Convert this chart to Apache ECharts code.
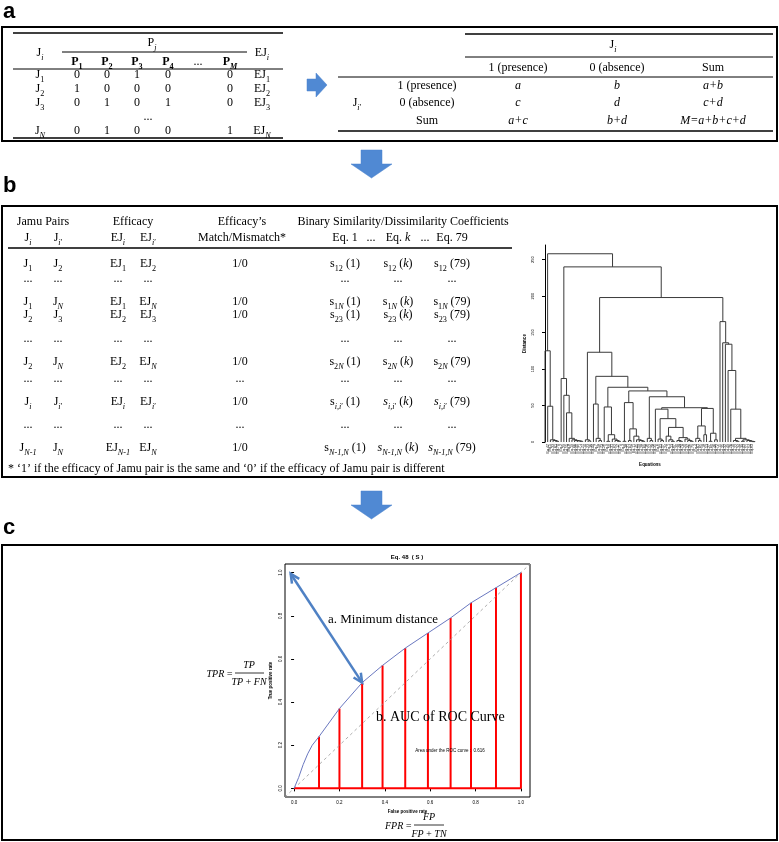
<!DOCTYPE html>
<html><head><meta charset="utf-8">
<script src="https://cdn.jsdelivr.net/npm/echarts@6/dist/echarts.min.js"></script>
<style>html,body{margin:0;padding:0;background:#fff}#c{width:779px;height:842px}</style>
</head><body><div id="c"></div>
<script>
// ================= DATA =================
// Panel a – presence / absence matrix
const plantHeaders = ['P_{1}', 'P_{2}', 'P_{3}', 'P_{4}', '...', 'P_{*M*}'];
const jamuRowLabels = ['J_{1}', 'J_{2}', 'J_{3}', 'J_{*N*}'];
const presenceValues = [[0, 0, 1, 0, '', 0], [1, 0, 0, 0, '', 0], [0, 1, 0, 1, '', 0], [0, 1, 0, 0, '', 1]];
const efficacyLabels = ['EJ_{1}', 'EJ_{2}', 'EJ_{3}', 'EJ_{*N*}'];
// Panel a – 2x2 contingency table
const contColHeaders = ['1 (presence)', '0 (absence)', 'Sum'];
const contRowHeaders = ['1 (presence)', '0 (absence)', 'Sum'];
const contCells = [['*a*', '*b*', '*a+b*'], ['*c*', '*d*', '*c+d*'], ['*a+c*', '*b+d*', '*M=a+b+c+d*']];
// Panel b – Jamu pair table
const pairHeader1 = ['Jamu Pairs', 'Efficacy', 'Efficacy\u2019s', 'Binary Similarity/Dissimilarity Coefficients'];
const pairHeader2 = ['J_{*i*}', 'J_{*i*\u2032}', 'EJ_{*i*}', 'EJ_{*i*\u2032}', 'Match/Mismatch\\*', 'Eq. 1', '...', 'Eq. *k*', '...', 'Eq. 79'];
const pairRows = [
  ['J_{1}', 'J_{2}', 'EJ_{1}', 'EJ_{2}', '1/0', 's_{12} (1)', 's_{12} (*k*)', 's_{12} (79)'],
  ['...', '...', '...', '...', '', '...', '...', '...'],
  ['J_{1}', 'J_{*N*}', 'EJ_{1}', 'EJ_{*N*}', '1/0', 's_{1*N*} (1)', 's_{1*N*} (*k*)', 's_{1*N*} (79)'],
  ['J_{2}', 'J_{3}', 'EJ_{2}', 'EJ_{3}', '1/0', 's_{23} (1)', 's_{23} (*k*)', 's_{23} (79)'],
  ['...', '...', '...', '...', '', '...', '...', '...'],
  ['J_{2}', 'J_{*N*}', 'EJ_{2}', 'EJ_{*N*}', '1/0', 's_{2*N*} (1)', 's_{2*N*} (*k*)', 's_{2*N*} (79)'],
  ['...', '...', '...', '...', '...', '...', '...', '...'],
  ['J_{*i*}', 'J_{*i*\u2032}', 'EJ_{*i*}', 'EJ_{*i*\u2032}', '1/0', 's_{*i,i*\u2032} (1)', '*s*_{*i,i*\u2032} (*k*)', '*s*_{*i,i*\u2032} (79)'],
  ['...', '...', '...', '...', '...', '...', '...', '...'],
  ['J_{*N-1*}', 'J_{*N*}', 'EJ_{*N-1*}', 'EJ_{*N*}', '1/0', 's_{*N-1,N*} (1)', '*s*_{*N-1,N*} (*k*)', '*s*_{*N-1,N*} (79)']
];
const footnote = '* \u20181\u2019 if the efficacy of Jamu pair is the same and \u20180\u2019 if the efficacy of Jamu pair is different';

// Panel b – dendrogram of the 79 coefficients: [height, left, right], leaves = equation numbers
const clusterA = [125, 12, [49, 47, [3, 5, [2, 33, [1, 61, 70]]]]];
const clusterB = [87, 2, [64, 29, [40, 55, [5, 8, [3, 19, [2, 66, [1.5, 40, [1, 71, 77]]]]]]]];
const clusterC1 = [3, 14, [1.5, 23, 36]];
const clusterC2a = [52, 44, [5, 7, [2, 58, 73]]];
const clusterC2b = [48, 26, [10, [1, 9, 50], [4, 31, [2, 62, [1, 17, 75]]]]];
const clusterC2c = [54, [1, 3, 38], [18, [2, 21, 64], [8, 11, [3, 45, [2, 59, [1, 28, 69]]]]]];
const clusterC2d = [5, 16, [2, 52, 78]];
const clusterC2f = [45, 35, [32, [4, 6, [2, 42, 57]], [20, [8, 24, [3, 1, [1, 13, 67]]], [6, [2, 30, [1, 48, 74]], [4, 20, [2, 37, [1, 56, 79]]]]]]];
const clusterC2g = [46, [22, [5, 4, [2, 41, 65]], [10, 18, 53]], [12, [1, 27, 60], [3, 46, 72]]];
const clusterDsmall = [5, [2, 10, [1, 22, 34]], [3, [1, 39, 43], [2, 51, [1, 54, [0.5, 63, 68]]]]];
const clusterD = [165, 15, [136, 25, [134, 32, [98, 49, [45, 76, clusterDsmall]]]]];
const clusterC = [123, clusterC1, [90, clusterC2a, [75, clusterC2b, [70, clusterC2c, [62, clusterC2d, [47, clusterC2f, clusterC2g]]]]]];
const dendroRoot = [258, clusterA, [240, clusterB, [198, clusterC, clusterD]]];
const distanceTicks = [0, 50, 100, 150, 200, 250];

// Panel c – ROC curve of Eq. 48
const rocFPR = [0, 0.02, 0.04, 0.06, 0.08, 0.11, 0.2, 0.3, 0.39, 0.49, 0.59, 0.69, 0.78, 0.89, 1.0];
const rocTPR = [0, 0.05, 0.11, 0.16, 0.2, 0.24, 0.37, 0.49, 0.57, 0.65, 0.72, 0.79, 0.86, 0.93, 1.0];
const aucFPR = [0.11, 0.2, 0.3, 0.39, 0.49, 0.59, 0.69, 0.78, 0.89, 1.0];
const aucTPR = [0.24, 0.37, 0.49, 0.57, 0.65, 0.72, 0.79, 0.86, 0.93, 1.0];
const rateTicks = [0, 0.2, 0.4, 0.6, 0.8, 1.0];
const chanceLine = [[-0.04, -0.04], [1.04, 1.04]];
const baseLine = [[0, 0], [1, 0]];
const minDistanceArrow = [[-0.015, 0.995], [0.3, 0.49]];
const aucText = 'Area under the ROC curve :  0.616';

// ================= HELPERS =================
const SERIF = '"Liberation Serif", "Times New Roman", serif';
const SANS = '"Liberation Sans", Arial, sans-serif';
function makeRich(size, bold) {
  const w = bold ? 'bold' : 'normal';
  const lh = Math.round(size * 1.45);
  const sub = Math.round(size * 0.68 * 10) / 10;
  return {
    n: { fontSize: size, fontFamily: SERIF, fontWeight: w, fill: '#000', lineHeight: lh },
    i: { fontSize: size, fontFamily: SERIF, fontWeight: w, fontStyle: 'italic', fill: '#000', lineHeight: lh },
    s: { fontSize: sub, fontFamily: SERIF, fontWeight: w, fill: '#000', lineHeight: sub + 2, verticalAlign: 'bottom' },
    si: { fontSize: sub, fontFamily: SERIF, fontWeight: w, fontStyle: 'italic', fill: '#000', lineHeight: sub + 2, verticalAlign: 'bottom' }
  };
}
function toRich(str) {
  let out = '', buf = '', italic = false, sub = false;
  const flush = () => { if (buf) { out += '{' + (sub ? (italic ? 'si' : 's') : (italic ? 'i' : 'n')) + '|' + buf + '}'; buf = ''; } };
  for (let k = 0; k < str.length; k++) {
    const c = str[k];
    if (c === '\\') { buf += str[k + 1]; k++; continue; }
    if (c === '_' && str[k + 1] === '{') { flush(); sub = true; k++; continue; }
    if (c === '}' && sub) { flush(); sub = false; continue; }
    if (c === '*') { flush(); italic = !italic; continue; }
    buf += c;
  }
  flush();
  return out;
}
const G = [];
const TS = 12;
function T(x, y, markup, o) {
  o = o || {};
  const size = o.size || TS;
  G.push({
    type: 'text', x: x, y: y, z: 10,
    style: { text: toRich(String(markup)), rich: makeRich(size, o.bold), align: o.align || 'center', verticalAlign: 'middle', fill: '#000', font: size + 'px ' + SERIF }
  });
}
function P(x, y, text, o) { // plain text
  o = o || {};
  G.push({
    type: 'text', x: x, y: y, z: 10, rotation: o.rot || 0,
    style: { text: text, font: (o.italic ? 'italic ' : '') + (o.weight || 'normal') + ' ' + (o.size || TS) + 'px ' + (o.family || SERIF), align: o.align || 'center', verticalAlign: 'middle', fill: o.color || '#000' }
  });
}
function L(x1, y1, x2, y2, w, c) {
  G.push({ type: 'line', z: 10, shape: { x1: x1, y1: y1, x2: x2, y2: y2 }, style: { stroke: c || '#000', lineWidth: w || 1 } });
}
function BOX(x, y, w, h) {
  G.push({ type: 'rect', z: 10, shape: { x: x, y: y, width: w, height: h }, style: { fill: 'none', stroke: '#000', lineWidth: 2 } });
}
function ARROW(points) {
  G.push({ type: 'polygon', z: 10, shape: { points: points }, style: { fill: '#5089d3', stroke: '#4a82cc', lineWidth: 0.5 } });
}

// ================= PANEL a =================
P(3, 12, 'a', { family: SANS, weight: 'bold', size: 22, align: 'left' });
BOX(2, 27, 775, 114);
// left table
L(13, 33, 283, 33, 1.5);
T(40, 53, 'J_{*i*}');
T(152, 43, 'P_{*j*}');
L(62, 52, 247, 52, 1);
T(262, 53, 'EJ_{*i*}');
const pColX = [77, 107, 137, 168, 198, 230];
plantHeaders.forEach((h, k) => T(pColX[k], 62, h, { bold: h !== '...' }));
L(13, 69, 283, 69, 1);
const aRowY = [75, 89, 103, 131];
jamuRowLabels.forEach((lab, r) => {
  T(40, aRowY[r], lab);
  presenceValues[r].forEach((v, k) => T(pColX[k], aRowY[r], String(v)));
  T(262, aRowY[r], efficacyLabels[r]);
});
T(148, 117, '...');
L(13, 138, 283, 138, 1.5);
// right arrow
ARROW([[307, 79], [316, 79], [316, 73], [327, 85], [316, 97], [316, 91], [307, 91]]);
// contingency table
L(465, 34, 773, 34, 1.5);
T(613, 45, 'J_{*i*}');
L(465, 57, 773, 57, 1);
const cColX = [518, 617, 713];
contColHeaders.forEach((h, k) => T(cColX[k], 68, h));
L(338, 77, 773, 77, 1);
const cRowY = [86, 103, 121];
contRowHeaders.forEach((h, r) => {
  T(427, cRowY[r], h);
  contCells[r].forEach((v, k) => T(cColX[k], cRowY[r], v));
});
T(357, 103, 'J_{*i*\u2032}');
L(338, 131, 773, 131, 1.5);

// down arrow a->b
ARROW([[361, 150], [382, 150], [382, 164], [392, 164], [371.5, 178], [351, 164], [361, 164]]);

// ================= PANEL b =================
P(3, 186, 'b', { family: SANS, weight: 'bold', size: 22, align: 'left' });
BOX(2, 206, 775, 271);
const h1X = [43, 133, 242, 403];
pairHeader1.forEach((h, k) => T(h1X[k], 222, h));
const h2X = [28, 58, 118, 148, 242, 345, 371, 398, 425, 452];
pairHeader2.forEach((h, k) => T(h2X[k], 238, h));
L(8, 248, 512, 248, 1.5);
const bColX = [28, 58, 118, 148, 240, 345, 398, 452];
const bRowY = [264, 279, 302, 315, 339, 362, 379, 402, 425, 448];
pairRows.forEach((row, r) => row.forEach((v, k) => { if (v) T(bColX[k], bRowY[r], v); }));
P(8, 469, footnote, { size: 12, align: 'left' });

// down arrow b->c
ARROW([[361, 491], [382, 491], [382, 505], [392, 505], [371.5, 519], [351, 505], [361, 505]]);

// ================= PANEL c =================
P(3, 528, 'c', { family: SANS, weight: 'bold', size: 22, align: 'left' });
BOX(2, 545, 775, 295);
P(407, 557, 'Eq. 48  ( S )', { family: SANS, weight: 'bold', size: 6 });
P(328, 620, 'a. Minimum distance', { size: 13, align: 'left' });
P(376, 717, 'b. AUC of ROC Curve', { size: 14, align: 'left' });
P(450, 751, aucText, { family: SANS, size: 4.5 });
// TPR formula
P(233, 674, 'TPR\u2009=', { italic: true, size: 10, align: 'right' });
P(249, 665, 'TP', { italic: true, size: 10 });
L(235, 673, 264, 673, 0.8);
P(249, 682, 'TP\u2009+\u2009FN', { italic: true, size: 10 });
// FPR formula
P(412, 826, 'FPR\u2009=', { italic: true, size: 10, align: 'right' });
P(429, 817, 'FP', { italic: true, size: 10 });
L(414, 825, 444, 825, 0.8);
P(429, 834, 'FP\u2009+\u2009TN', { italic: true, size: 10 });

// ================= DENDROGRAM computation =================
const leafOrder = [];
const merges = [];
function walk(node) {
  if (!Array.isArray(node)) { leafOrder.push(node); return { x: leafOrder.length - 1, h: 0 }; }
  const a = walk(node[1]), b = walk(node[2]);
  merges.push([a.x, a.h, b.x, b.h, node[0]]);
  return { x: (a.x + b.x) / 2, h: node[0] };
}
walk(dendroRoot);

const option = {
  animation: false,
  backgroundColor: '#fff',
  textStyle: { fontFamily: SANS },
  graphic: { elements: G },
  grid: [
    { left: 545, right: 24, top: 245, bottom: 400 },
    { left: 285, right: 249, top: 564, bottom: 45, show: true, borderColor: '#000', borderWidth: 1, backgroundColor: 'transparent' }
  ],
  xAxis: [
    {
      gridIndex: 0, type: 'value', min: 0, max: leafOrder.length - 1, interval: 1,
      axisLine: { show: false }, axisTick: { show: false }, splitLine: { show: false },
      axisLabel: { rotate: 90, fontSize: 3.6, margin: 2, color: '#000', formatter: v => 'Eq.' + leafOrder[Math.round(v)] },
      name: 'Equations', nameLocation: 'middle', nameGap: 20, nameTextStyle: { fontSize: 4.5, fontWeight: 'bold', color: '#000' }
    },
    {
      gridIndex: 1, type: 'value', min: -0.04, max: 1.04,
      axisLine: { show: false }, splitLine: { show: false },
      axisTick: { customValues: rateTicks, length: 3, lineStyle: { color: '#000' } },
      axisLabel: { customValues: rateTicks, formatter: v => v.toFixed(1), fontSize: 4.5, margin: 3, color: '#000' },
      name: 'False positive rate', nameLocation: 'middle', nameGap: 12, nameTextStyle: { fontSize: 4.5, fontWeight: 'bold', color: '#000' }
    }
  ],
  yAxis: [
    {
      gridIndex: 0, type: 'value', min: 0, max: 270, offset: 8,
      axisLine: { show: true, lineStyle: { color: '#000', width: 1 } }, splitLine: { show: false },
      axisTick: { customValues: distanceTicks, length: 3, lineStyle: { color: '#000' } },
      axisLabel: { customValues: distanceTicks, rotate: 90, fontSize: 4, margin: 2, color: '#000' },
      name: 'Distance', nameLocation: 'middle', nameGap: 10, nameRotate: 90, nameTextStyle: { fontSize: 4.5, fontWeight: 'bold', color: '#000' }
    },
    {
      gridIndex: 1, type: 'value', min: -0.04, max: 1.04,
      axisLine: { show: false }, splitLine: { show: false },
      axisTick: { customValues: rateTicks, length: 3, lineStyle: { color: '#000' } },
      axisLabel: { customValues: rateTicks, formatter: v => v.toFixed(1), rotate: 90, fontSize: 4.5, margin: 2, color: '#000' },
      name: 'True positive rate', nameLocation: 'middle', nameGap: 12, nameRotate: 90, nameTextStyle: { fontSize: 4.5, fontWeight: 'bold', color: '#000' }
    }
  ],
  series: [
    {
      type: 'custom', xAxisIndex: 0, yAxisIndex: 0, data: merges, silent: true,
      encode: { x: [0, 2], y: [1, 3, 4] },
      renderItem: (params, api) => {
        const p1 = api.coord([api.value(0), api.value(1)]);
        const p2 = api.coord([api.value(0), api.value(4)]);
        const p3 = api.coord([api.value(2), api.value(4)]);
        const p4 = api.coord([api.value(2), api.value(3)]);
        return { type: 'polyline', shape: { points: [p1, p2, p3, p4] }, style: { stroke: '#3a3a3a', lineWidth: 1, fill: null } };
      }
    },
    {
      type: 'line', xAxisIndex: 1, yAxisIndex: 1, data: chanceLine, symbol: 'none', silent: true,
      lineStyle: { color: '#9a9a9a', width: 0.8, type: [3, 3] }
    },
    {
      type: 'line', xAxisIndex: 1, yAxisIndex: 1, data: baseLine, symbol: 'none', silent: true,
      lineStyle: { color: '#ff0000', width: 2 }
    },
    {
      type: 'custom', xAxisIndex: 1, yAxisIndex: 1, silent: true,
      data: aucFPR.map((f, k) => [f, aucTPR[k]]),
      encode: { x: 0, y: 1 },
      renderItem: (params, api) => {
        const a = api.coord([api.value(0), 0]);
        const b = api.coord([api.value(0), api.value(1)]);
        return { type: 'line', shape: { x1: a[0], y1: a[1], x2: b[0], y2: b[1] }, style: { stroke: '#ff0000', lineWidth: 2 } };
      }
    },
    {
      type: 'line', xAxisIndex: 1, yAxisIndex: 1, symbol: 'none', silent: true,
      data: rocFPR.map((f, k) => [f, rocTPR[k]]),
      lineStyle: { color: '#6a78c0', width: 1 }
    },
    {
      type: 'custom', xAxisIndex: 1, yAxisIndex: 1, silent: true,
      data: [[minDistanceArrow[0][0], minDistanceArrow[0][1], minDistanceArrow[1][0], minDistanceArrow[1][1]]],
      encode: { x: [0, 2], y: [1, 3] },
      renderItem: (params, api) => {
        const p = api.coord([api.value(0), api.value(1)]);
        const q = api.coord([api.value(2), api.value(3)]);
        const ang = Math.atan2(q[1] - p[1], q[0] - p[0]);
        const len = 10, spread = 0.45;
        const head = (tip, dir) => [
          [tip[0] + len * Math.cos(dir + spread), tip[1] + len * Math.sin(dir + spread)],
          tip,
          [tip[0] + len * Math.cos(dir - spread), tip[1] + len * Math.sin(dir - spread)]
        ];
        const st = { stroke: '#4f81c4', lineWidth: 2.5, fill: null, lineJoin: 'miter' };
        return {
          type: 'group', children: [
            { type: 'line', shape: { x1: p[0], y1: p[1], x2: q[0], y2: q[1] }, style: st },
            { type: 'polyline', shape: { points: head(p, ang) }, style: st },
            { type: 'polyline', shape: { points: head(q, ang + Math.PI) }, style: st }
          ]
        };
      }
    }
  ]
};
const chart = echarts.init(document.getElementById('c'), null, { renderer: 'canvas' });
chart.setOption(option);
</script>
</body></html>
